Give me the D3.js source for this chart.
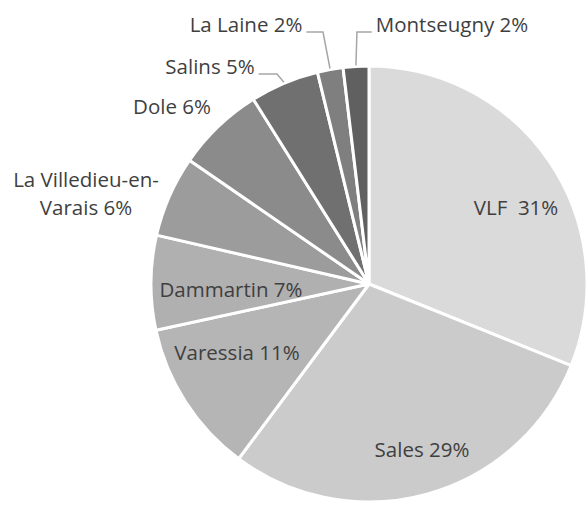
<!DOCTYPE html>
<html>
<head>
<meta charset="utf-8">
<script src="https://cdn.jsdelivr.net/npm/d3@7"></script>
<style>
  body { margin: 0; background: #fff; }
  text { font-family: "Open Sans", "Liberation Sans", sans-serif; fill: #3f3f3f; }
</style>
</head>
<body>
<script>
var names = ["VLF", "Sales", "Varessia", "Dammartin", "La Villedieu-en-Varais", "Dole", "Salins", "La Laine", "Montseugny"];
var shares = [31.1, 29.1, 11.4, 7.0, 6.0, 6.5, 5.1, 1.9, 1.9];
var labels = [["VLF  31%"], ["Sales 29%"], ["Varessia 11%"], ["Dammartin 7%"], ["La Villedieu-en-", "Varais 6%"], ["Dole 6%"], ["Salins 5%"], ["La Laine 2%"], ["Montseugny 2%"]];
var colors = ["#dadada", "#cbcbcb", "#b5b5b5", "#b0b0b0", "#9c9c9c", "#8b8b8b", "#707070", "#7f7f7f", "#606060"];

// label placement relative to the pie centre (layout only)
var labelPos = [[147, -76], [53, 166], [-132, 69], [-138, 6], [-283, -90], [-197, -177], [-159, -217], [-123, -259], [83, -259]];
var outside = [false, false, false, false, false, false, true, true, true];

var width = 587, height = 505,
    cx = 369, cy = 284, radius = 218;

var svg = d3.select("body").append("svg")
    .attr("width", width)
    .attr("height", height);

var g = svg.append("g")
    .attr("transform", "translate(" + cx + "," + cy + ")");

var pie = d3.pie().sort(null).value(function(d) { return d; });
var arcs = pie(shares);

var arc = d3.arc().innerRadius(0).outerRadius(radius);

g.selectAll("path.slice")
    .data(arcs)
  .enter().append("path")
    .attr("class", "slice")
    .attr("d", arc)
    .attr("fill", function(d, i) { return colors[i]; })
    .attr("stroke", "#fff")
    .attr("stroke-width", 3)
    .attr("stroke-linejoin", "round");

var lines = g.append("g");

var lab = g.selectAll("text.label")
    .data(arcs)
  .enter().append("text")
    .attr("class", "label")
    .attr("text-anchor", "middle")
    .attr("font-size", 20.5)
    .attr("xml:space", "preserve")
    .style("white-space", "pre")
    .attr("transform", function(d, i) { return "translate(" + labelPos[i][0] + "," + labelPos[i][1] + ")"; });

lab.each(function(d, i) {
    var t = d3.select(this);
    var ls = labels[i];
    ls.forEach(function(s, j) {
        t.append("tspan")
            .attr("x", 0)
            .attr("y", (j - (ls.length - 1) / 2) * 28 + 7)
            .text(s);
    });
});

// leader lines for the small outside labels
var edge = d3.arc().innerRadius(radius + 1).outerRadius(radius + 1);
lab.each(function(d, i) {
    if (!outside[i]) return;
    var bb = this.getBBox();
    var p = edge.centroid(d);
    var lp = labelPos[i];
    var ly = lp[1] + 7;
    var pts;
    if (p[0] < lp[0] + bb.x) {
        pts = [p, [p[0] + 1, ly], [lp[0] + bb.x - 4, ly]];
    } else {
        pts = [p, [p[0] - 7, ly], [lp[0] + bb.x + bb.width + 4, ly]];
    }
    lines.append("polyline")
        .attr("points", pts.map(function(q) { return q.join(","); }).join(" "))
        .attr("fill", "none")
        .attr("stroke", "#a6a6a6")
        .attr("stroke-width", 1.5);
});
</script>
</body>
</html>
